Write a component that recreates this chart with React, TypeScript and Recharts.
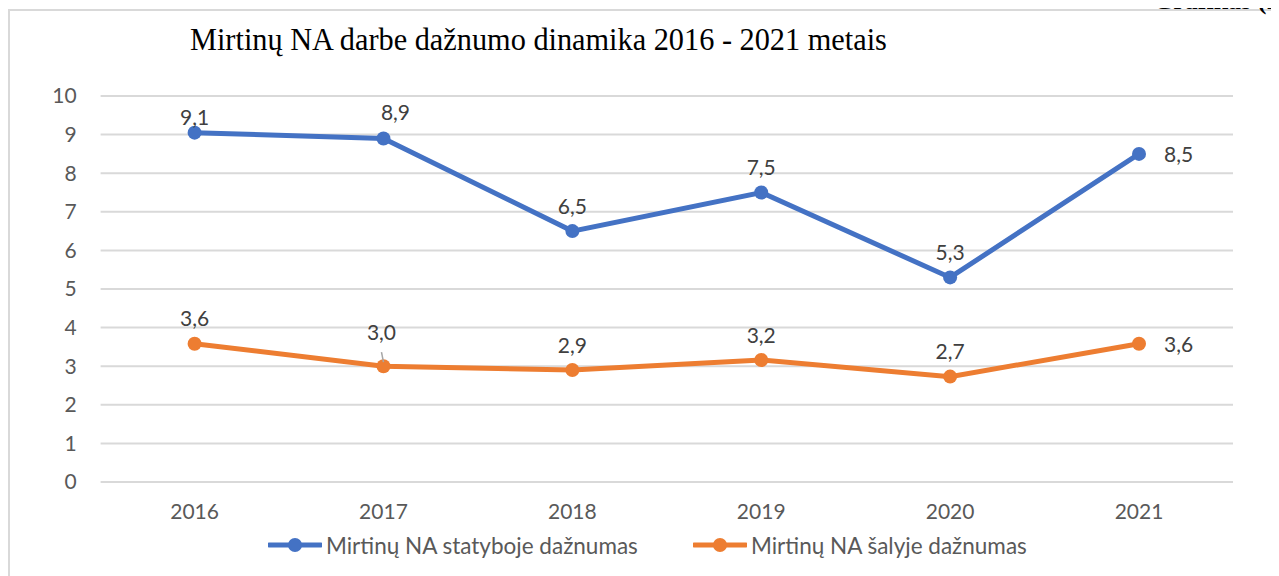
import React from 'react';
import { LineChart, Line, XAxis, YAxis, CartesianGrid, Legend } from 'recharts';

// chart values
const years = ['2016', '2017', '2018', '2019', '2020', '2021'];
const statybojeValues = [9.05, 8.9, 6.5, 7.5, 5.3, 8.5];
const salyjeValues = [3.58, 3.0, 2.9, 3.16, 2.73, 3.58];
const yTicks = [0, 1, 2, 3, 4, 5, 6, 7, 8, 9, 10];

const SERIES = [
  { key: 'statyboje', name: 'Mirtinų NA statyboje dažnumas', color: '#4472C4' },
  { key: 'salyje', name: 'Mirtinų NA šalyje dažnumas', color: '#ED7D31' },
];

const data = years.map((year, i) => ({
  year,
  statyboje: statybojeValues[i],
  salyje: salyjeValues[i],
}));

// label placement tweaks (lift above point, sideways shift)
const labelTweaks: Record<string, { lift?: number; dx?: number; leader?: boolean }> = {
  'statyboje-0': { lift: 16 },
  'statyboje-1': { lift: 27, dx: 12 },
  'salyje-1': { lift: 35, dx: -2, leader: true },
};

const fmt = (v: number) => v.toFixed(1).replace('.', ',');
const FONT = 'Lato, "Noto Sans", sans-serif';

const makeLabel = (key: string) => (props: any) => {
  const { x, y, value, index } = props;
  if (index === years.length - 1) {
    return (
      <text x={x + 25} y={y} dominantBaseline="central" textAnchor="start"
        fontFamily={FONT} fontSize={21} fill="#404040">
        {fmt(value)}
      </text>
    );
  }
  const t = labelTweaks[`${key}-${index}`] || {};
  const lift = t.lift ?? 26;
  const dx = t.dx ?? 0;
  return (
    <g>
      {t.leader && <line x1={x - 2} y1={y - 14} x2={x} y2={y - 4} stroke="#a6a6a6" strokeWidth={1.5} />}
      <text x={x + dx} y={y - lift} dominantBaseline="central" textAnchor="middle"
        fontFamily={FONT} fontSize={21} fill="#404040">
        {fmt(value)}
      </text>
    </g>
  );
};

const LegendContent = () => (
  <div style={{ height: 50, boxSizing: 'border-box', paddingBottom: 12, display: 'flex', alignItems: 'center', paddingLeft: 260, fontFamily: FONT, fontSize: 22.5, color: '#595959' }}>
    {SERIES.map((s, i) => (
      <div key={s.key} style={{ display: 'flex', alignItems: 'center', width: i === 0 ? 425 : 'auto' }}>
        <svg width={54} height={16} style={{ marginRight: 4 }}>
          <line x1={1} y1={8} x2={53} y2={8} stroke={s.color} strokeWidth={5} strokeLinecap="round" />
          <circle cx={27} cy={8} r={7} fill={s.color} />
        </svg>
        <span>{s.name}</span>
      </div>
    ))}
  </div>
);

export default function App() {
  return (
    <div style={{ position: 'relative', marginTop: -8, width: 1271, height: 576, overflow: 'hidden', background: '#fff' }}>
      <div style={{ position: 'absolute', left: 0, top: 9, width: 1400, height: 700, border: '2px solid #d9d9d9' }} />
      <div style={{ position: 'absolute', left: 1145, top: -12, fontFamily: '"Liberation Serif", serif', fontWeight: 'bold', fontSize: 26, lineHeight: '26px', whiteSpace: 'nowrap', color: '#000', zIndex: 2 }}>
        Grafikas (2.1)
      </div>
      <div style={{
        position: 'absolute', left: 182, top: 21, fontFamily: '"Liberation Serif", serif', fontSize: 32,
        whiteSpace: 'nowrap', transform: 'scaleX(0.947)', transformOrigin: 'left center', color: '#000',
      }}>
        Mirtinų NA darbe dažnumo dinamika 2016 - 2021 metais
      </div>
      <div style={{ position: 'absolute', left: 0, top: 8 }}>
        <LineChart width={1271} height={568} data={data} margin={{ top: 88, right: 46, left: 0, bottom: 0 }}>
          <CartesianGrid vertical={false} stroke="#d9d9d9" strokeWidth={2} />
          <XAxis dataKey="year" axisLine={false} tickLine={false} tickSize={0} tickMargin={22} height={44}
            padding={{ left: 94, right: 94 }}
            tick={{ fill: '#595959', fontSize: 21, fontFamily: FONT }} />
          <YAxis domain={[0, 10]} ticks={yTicks} interval={0} axisLine={false} tickLine={false} tickSize={0}
            tickMargin={24} width={92.6}
            tick={{ fill: '#595959', fontSize: 21, fontFamily: FONT }} />
          <Legend verticalAlign="bottom" content={<LegendContent />} />
          {SERIES.map((s) => (
            <Line key={s.key} type="linear" dataKey={s.key} name={s.name} stroke={s.color} strokeWidth={5}
              dot={{ r: 7, fill: s.color, stroke: s.color, strokeWidth: 0 }} isAnimationActive={false}
              label={makeLabel(s.key)} />
          ))}
        </LineChart>
      </div>
    </div>
  );
}
